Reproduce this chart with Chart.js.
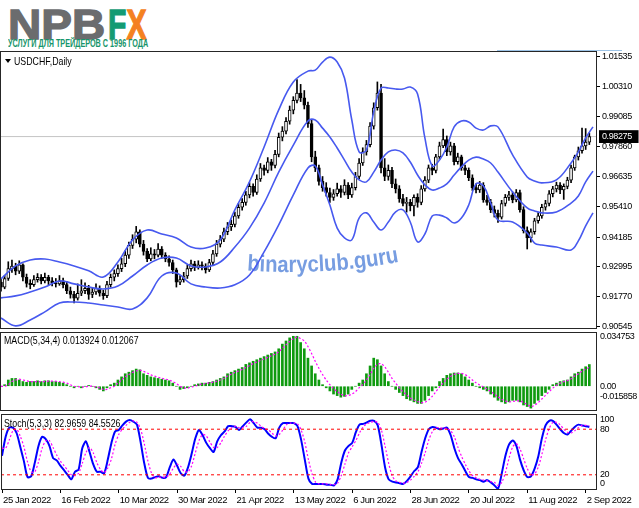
<!DOCTYPE html>
<html>
<head>
<meta charset="utf-8">
<script src="https://cdn.jsdelivr.net/npm/chart.js@4.4.0/dist/chart.umd.min.js"></script>
<style>
body { margin: 0; background: #fff; }
#wrap { position: relative; width: 639px; height: 508px; overflow: hidden; background: #fff; }
canvas { position: absolute; left: 0; }
.logo { position: absolute; top: 3px; font: bold 43px "Liberation Sans", Arial, sans-serif; line-height: 43px; white-space: nowrap; transform-origin: 0 0; }
.npb { left: 8px; color: #6b6c6e; -webkit-text-stroke: 1.3px #6b6c6e; transform: scaleX(1.07); }
.fx { left: 108px; transform: scaleX(0.7); }
.fx .f { color: #139b73; -webkit-text-stroke: 1.3px #139b73; }
.fx .x { color: #f48120; -webkit-text-stroke: 1.3px #f48120; }
.sub { position: absolute; left: 8px; top: 37px; font: bold 10.5px "Liberation Sans", Arial, sans-serif; line-height: 12px; color: #17956b; white-space: nowrap; transform: scaleX(0.69); transform-origin: 0 0; }
.lbl { position: absolute; font: 11px "Liberation Sans", Arial, sans-serif; color: #000; white-space: nowrap; line-height: 12px; transform: scaleX(0.8); transform-origin: 0 0; }
.tri { position: absolute; left: 5px; top: 59px; width: 0; height: 0; border-left: 3px solid transparent; border-right: 3px solid transparent; border-top: 4px solid #000; }
.topline { position: absolute; left: 497px; top: 50px; width: 125px; height: 1px; background: #9cc3e6; }
</style>
</head>
<body>
<div id="wrap">
  <div class="logo npb">NPB</div>
  <div class="logo fx"><span class="f">F</span><span class="x">X</span></div>
  <div class="sub">УСЛУГИ ДЛЯ ТРЕЙДЕРОВ С 1996 ГОДА</div>
  <div class="topline"></div>
  <canvas id="priceChart" width="639" height="298" style="top:41px"></canvas>
  <canvas id="macdChart" width="639" height="99" style="top:322px"></canvas>
  <canvas id="stochChart" width="639" height="104" style="top:404px"></canvas>
  <div class="tri"></div>
  <div class="lbl" style="left:14px;top:55px">USDCHF,Daily</div>
  <div class="lbl" style="left:4px;top:334px">MACD(5,34,4) 0.013924 0.012067</div>
  <div class="lbl" style="left:4px;top:417px">Stoch(5,3,3) 82.9659 84.5526</div>
</div>
<script>
// ---- data ----

const dateLabels = ['25 Jan 2022', '16 Feb 2022', '10 Mar 2022', '30 Mar 2022', '21 Apr 2022', '13 May 2022',
    '6 Jun 2022', '28 Jun 2022', '20 Jul 2022', '11 Aug 2022', '2 Sep 2022'];
const dateIdx = [0, 16, 32, 48, 64, 80, 96, 112, 128, 144, 160];

const priceTicks = [0.90545, 0.91770, 0.92995, 0.94185, 0.95410, 0.96635, 0.97860, 0.98275, 0.99085, 1.00310, 1.01535];
const lastPrice = 0.98275;

// daily candles: [open, high, low, close]
const ohlc = [
    [0.9235, 0.9248, 0.9198, 0.9215], [0.9215, 0.9262, 0.9208, 0.9250], [0.9250, 0.9318, 0.9242, 0.9290], [0.9290, 0.9325, 0.9275, 0.9300],
    [0.9300, 0.9312, 0.9265, 0.9280], [0.9280, 0.9322, 0.9270, 0.9305], [0.9305, 0.9310, 0.9240, 0.9255], [0.9255, 0.9268, 0.9215, 0.9230],
    [0.9230, 0.9245, 0.9208, 0.9225], [0.9225, 0.9262, 0.9218, 0.9245], [0.9245, 0.9270, 0.9235, 0.9255], [0.9255, 0.9266, 0.9228, 0.9240],
    [0.9240, 0.9272, 0.9232, 0.9255], [0.9255, 0.9263, 0.9225, 0.9240], [0.9240, 0.9254, 0.9220, 0.9232], [0.9232, 0.9250, 0.9215, 0.9228],
    [0.9228, 0.9262, 0.9222, 0.9240], [0.9240, 0.9252, 0.9212, 0.9225], [0.9225, 0.9238, 0.9188, 0.9200], [0.9200, 0.9215, 0.9170, 0.9185],
    [0.9185, 0.9198, 0.9150, 0.9170], [0.9170, 0.9228, 0.9162, 0.9190], [0.9190, 0.9245, 0.9180, 0.9200], [0.9200, 0.9232, 0.9188, 0.9210],
    [0.9210, 0.9222, 0.9165, 0.9185], [0.9185, 0.9210, 0.9172, 0.9195], [0.9195, 0.9228, 0.9185, 0.9210], [0.9210, 0.9220, 0.9178, 0.9190],
    [0.9190, 0.9202, 0.9165, 0.9180], [0.9180, 0.9238, 0.9172, 0.9225], [0.9225, 0.9268, 0.9215, 0.9255], [0.9255, 0.9285, 0.9240, 0.9270],
    [0.9270, 0.9305, 0.9258, 0.9290], [0.9290, 0.9332, 0.9278, 0.9310], [0.9310, 0.9362, 0.9298, 0.9345], [0.9345, 0.9398, 0.9332, 0.9385],
    [0.9385, 0.9428, 0.9372, 0.9410], [0.9410, 0.9462, 0.9395, 0.9440], [0.9440, 0.9448, 0.9378, 0.9390], [0.9390, 0.9405, 0.9345, 0.9360],
    [0.9360, 0.9372, 0.9318, 0.9330], [0.9330, 0.9375, 0.9322, 0.9350], [0.9350, 0.9368, 0.9330, 0.9345], [0.9345, 0.9392, 0.9338, 0.9370],
    [0.9370, 0.9380, 0.9332, 0.9345], [0.9345, 0.9355, 0.9318, 0.9330], [0.9330, 0.9342, 0.9300, 0.9315], [0.9315, 0.9325, 0.9270, 0.9285],
    [0.9285, 0.9292, 0.9215, 0.9235], [0.9235, 0.9262, 0.9225, 0.9245], [0.9245, 0.9275, 0.9235, 0.9260], [0.9260, 0.9305, 0.9250, 0.9290],
    [0.9290, 0.9325, 0.9280, 0.9310], [0.9310, 0.9320, 0.9282, 0.9295], [0.9295, 0.9322, 0.9288, 0.9305], [0.9305, 0.9318, 0.9285, 0.9300],
    [0.9300, 0.9310, 0.9272, 0.9285], [0.9285, 0.9328, 0.9278, 0.9315], [0.9315, 0.9365, 0.9305, 0.9350], [0.9350, 0.9405, 0.9340, 0.9390],
    [0.9390, 0.9425, 0.9378, 0.9410], [0.9410, 0.9455, 0.9400, 0.9440], [0.9440, 0.9478, 0.9428, 0.9460], [0.9460, 0.9488, 0.9445, 0.9470],
    [0.9470, 0.9520, 0.9460, 0.9505], [0.9505, 0.9555, 0.9495, 0.9540], [0.9540, 0.9575, 0.9528, 0.9560], [0.9560, 0.9605, 0.9548, 0.9590],
    [0.9590, 0.9640, 0.9578, 0.9625], [0.9625, 0.9635, 0.9585, 0.9600], [0.9600, 0.9672, 0.9592, 0.9655], [0.9655, 0.9718, 0.9645, 0.9700],
    [0.9700, 0.9712, 0.9670, 0.9690], [0.9690, 0.9742, 0.9680, 0.9725], [0.9725, 0.9735, 0.9690, 0.9710], [0.9710, 0.9772, 0.9700, 0.9755],
    [0.9755, 0.9842, 0.9745, 0.9825], [0.9825, 0.9868, 0.9810, 0.9850], [0.9850, 0.9905, 0.9838, 0.9890], [0.9890, 0.9952, 0.9878, 0.9935],
    [0.9935, 0.9990, 0.9920, 0.9975], [0.9975, 1.0060, 0.9965, 1.0005], [1.0005, 1.0040, 0.9970, 0.9985], [0.9985, 1.0015, 0.9940, 0.9955],
    [0.9955, 0.9968, 0.9865, 0.9880], [0.9880, 0.9895, 0.9725, 0.9745], [0.9745, 0.9768, 0.9685, 0.9700], [0.9700, 0.9712, 0.9630, 0.9645],
    [0.9645, 0.9665, 0.9605, 0.9620], [0.9620, 0.9640, 0.9585, 0.9600], [0.9600, 0.9618, 0.9560, 0.9580], [0.9580, 0.9612, 0.9568, 0.9595],
    [0.9595, 0.9638, 0.9585, 0.9615], [0.9615, 0.9628, 0.9580, 0.9600], [0.9600, 0.9652, 0.9590, 0.9630], [0.9630, 0.9640, 0.9575, 0.9590],
    [0.9590, 0.9638, 0.9580, 0.9620], [0.9620, 0.9682, 0.9610, 0.9665], [0.9665, 0.9738, 0.9655, 0.9720], [0.9720, 0.9782, 0.9710, 0.9765],
    [0.9765, 0.9812, 0.9752, 0.9795], [0.9795, 0.9885, 0.9785, 0.9870], [0.9870, 0.9965, 0.9858, 0.9945], [0.9945, 1.0050, 0.9935, 1.0005],
    [1.0005, 1.0040, 0.9680, 0.9700], [0.9700, 0.9738, 0.9648, 0.9665], [0.9665, 0.9712, 0.9650, 0.9690], [0.9690, 0.9702, 0.9620, 0.9635],
    [0.9635, 0.9655, 0.9598, 0.9615], [0.9615, 0.9628, 0.9560, 0.9575], [0.9575, 0.9592, 0.9545, 0.9555], [0.9555, 0.9580, 0.9520, 0.9560],
    [0.9560, 0.9572, 0.9525, 0.9545], [0.9545, 0.9590, 0.9505, 0.9580], [0.9580, 0.9595, 0.9540, 0.9560], [0.9560, 0.9628, 0.9550, 0.9615],
    [0.9615, 0.9665, 0.9605, 0.9650], [0.9650, 0.9712, 0.9640, 0.9700], [0.9700, 0.9715, 0.9672, 0.9690], [0.9690, 0.9755, 0.9680, 0.9745],
    [0.9745, 0.9805, 0.9735, 0.9790], [0.9790, 0.9858, 0.9782, 0.9815], [0.9815, 0.9830, 0.9750, 0.9765], [0.9765, 0.9805, 0.9752, 0.9790],
    [0.9790, 0.9800, 0.9712, 0.9725], [0.9725, 0.9760, 0.9715, 0.9745], [0.9745, 0.9752, 0.9690, 0.9700], [0.9700, 0.9712, 0.9672, 0.9690],
    [0.9690, 0.9700, 0.9648, 0.9660], [0.9660, 0.9672, 0.9608, 0.9620], [0.9620, 0.9635, 0.9598, 0.9610], [0.9610, 0.9645, 0.9600, 0.9630],
    [0.9630, 0.9640, 0.9560, 0.9570], [0.9570, 0.9588, 0.9548, 0.9560], [0.9560, 0.9572, 0.9518, 0.9530], [0.9530, 0.9545, 0.9500, 0.9515],
    [0.9515, 0.9528, 0.9478, 0.9500], [0.9500, 0.9568, 0.9492, 0.9555], [0.9555, 0.9592, 0.9545, 0.9580], [0.9580, 0.9605, 0.9568, 0.9590],
    [0.9590, 0.9602, 0.9558, 0.9570], [0.9570, 0.9612, 0.9562, 0.9600], [0.9600, 0.9610, 0.9520, 0.9530], [0.9530, 0.9542, 0.9435, 0.9445],
    [0.9445, 0.9460, 0.9370, 0.9415], [0.9415, 0.9452, 0.9398, 0.9440], [0.9440, 0.9495, 0.9430, 0.9485], [0.9485, 0.9518, 0.9475, 0.9505],
    [0.9505, 0.9552, 0.9495, 0.9540], [0.9540, 0.9568, 0.9528, 0.9555], [0.9555, 0.9608, 0.9545, 0.9595], [0.9595, 0.9625, 0.9582, 0.9615],
    [0.9615, 0.9642, 0.9602, 0.9630], [0.9630, 0.9640, 0.9595, 0.9610], [0.9610, 0.9635, 0.9572, 0.9625], [0.9625, 0.9662, 0.9615, 0.9650],
    [0.9650, 0.9712, 0.9640, 0.9700], [0.9700, 0.9752, 0.9690, 0.9745], [0.9745, 0.9785, 0.9732, 0.9770], [0.9770, 0.9862, 0.9760, 0.9790],
    [0.9790, 0.9860, 0.9775, 0.9805], [0.9805, 0.9842, 0.9795, 0.98275]
];

// Bollinger bands, sampled at these bar indices
const bandIdx = [0, 4, 8, 12, 16, 20, 24, 28, 32, 36, 40, 44, 48, 52, 56, 60, 64, 68, 72, 76, 80, 84,
    86, 88, 90, 92, 94, 96, 98, 100, 102, 104, 106, 108, 110, 112, 114, 116, 118, 120, 122, 124, 126, 128,
    130, 132, 134, 136, 140, 144, 146, 148, 152, 156, 158, 160, 162];
const bbUpper = [0.9248, 0.9301, 0.9325, 0.9329, 0.9317, 0.9301, 0.9281, 0.9256, 0.9317, 0.9407, 0.9447, 0.9431,
    0.9415, 0.9378, 0.9374, 0.9407, 0.9529, 0.9643, 0.9785, 0.9936, 1.0050, 1.0094,
    1.0098, 1.0131, 1.0151, 1.0131, 1.0066, 0.9895, 0.9765, 0.9773, 0.9928, 1.0025, 1.0025, 1.0021, 1.0021,
    1.0029, 1.0001, 0.9822, 0.9708, 0.9732, 0.9785, 0.9867, 0.9891, 0.9887,
    0.9862, 0.9854, 0.9871, 0.9867, 0.9753, 0.9663, 0.9647, 0.9639, 0.9651, 0.9720, 0.9765, 0.9822, 0.9867];
const bbMiddle = [0.9171, 0.9179, 0.9195, 0.9215, 0.9240, 0.9228, 0.9215, 0.9207, 0.9219, 0.9260, 0.9305, 0.9333,
    0.9333, 0.9301, 0.9297, 0.9317, 0.9378, 0.9455, 0.9557, 0.9683, 0.9793, 0.9891,
    0.9895, 0.9862, 0.9826, 0.9781, 0.9732, 0.9683, 0.9651, 0.9643, 0.9683, 0.9732, 0.9765, 0.9773, 0.9761,
    0.9724, 0.9671, 0.9631, 0.9610, 0.9618, 0.9635, 0.9671, 0.9704, 0.9732,
    0.9744, 0.9736, 0.9720, 0.9683, 0.9602, 0.9537, 0.9525, 0.9517, 0.9521, 0.9557, 0.9586, 0.9643, 0.9687];
const bbLower = [0.9089, 0.9057, 0.9081, 0.9114, 0.9150, 0.9154, 0.9150, 0.9142, 0.9134, 0.9126, 0.9171, 0.9260,
    0.9272, 0.9228, 0.9215, 0.9211, 0.9224, 0.9264, 0.9358, 0.9468, 0.9590, 0.9700,
    0.9708, 0.9631, 0.9549, 0.9455, 0.9415, 0.9407, 0.9496, 0.9517, 0.9480, 0.9447, 0.9480, 0.9521, 0.9529,
    0.9480, 0.9399, 0.9431, 0.9504, 0.9508, 0.9496, 0.9476, 0.9496, 0.9549,
    0.9635, 0.9627, 0.9557, 0.9488, 0.9480, 0.9435, 0.9394, 0.9386, 0.9378, 0.9366, 0.9403, 0.9464, 0.9517];

// MACD(5,34,4): histogram and signal, one value per bar
const macdHist = [
    0.000, 0.001, 0.004, 0.005, 0.005, 0.004, 0.003, 0.0025, 0.003, 0.003,
    0.0035, 0.003, 0.0035, 0.0035, 0.003, 0.003, 0.0025, 0.002, 0.001, 0.000,
    -0.001, 0.000, -0.001, 0.000, 0.0005, 0.000, -0.001, -0.002, -0.003, -0.001,
    0.001, 0.002, 0.004, 0.006, 0.008, 0.009, 0.010, 0.011, 0.0105, 0.008,
    0.007, 0.006, 0.0055, 0.005, 0.0045, 0.004, 0.0035, 0.002, 0.000, -0.002,
    -0.0015, -0.001, 0.000, 0.001, 0.0015, 0.002, 0.002, 0.0025, 0.003, 0.004,
    0.005, 0.006, 0.008, 0.009, 0.010, 0.011, 0.012, 0.014, 0.015, 0.016,
    0.017, 0.018, 0.019, 0.020, 0.021, 0.022, 0.024, 0.027, 0.029, 0.031,
    0.032, 0.032, 0.028, 0.024, 0.018, 0.013, 0.008, 0.004, 0.001, -0.001,
    -0.003, -0.005, -0.006, -0.007, -0.0065, -0.005, -0.002, 0.000, 0.002, 0.004,
    0.008, 0.013, 0.018, 0.017, 0.013, 0.008, 0.003, 0.000, -0.002, -0.004,
    -0.006, -0.008, -0.009, -0.010, -0.011, -0.011, -0.009, -0.006, -0.003, -0.001,
    0.003, 0.005, 0.007, 0.008, 0.0085, 0.0085, 0.008, 0.006, 0.004, 0.002,
    0.000, -0.001, -0.002, -0.003, -0.005, -0.007, -0.009, -0.010, -0.011, -0.010,
    -0.009, -0.009, -0.010, -0.012, -0.013, -0.014, -0.011, -0.009, -0.006, -0.004,
    -0.002, 0.001, 0.002, 0.003, 0.0035, 0.004, 0.006, 0.008, 0.009, 0.011,
    0.0125, 0.0139
];
const macdSignal = [
    0.000, 0.000, 0.001, 0.003, 0.004, 0.0045, 0.004, 0.0035, 0.003, 0.003,
    0.003, 0.003, 0.003, 0.0033, 0.0033, 0.0032, 0.003, 0.0026, 0.002, 0.001,
    0.000, -0.0003, -0.0005, -0.0004, 0.000, 0.000, -0.0005, -0.001, -0.002, -0.002,
    -0.001, 0.000, 0.002, 0.004, 0.006, 0.0075, 0.0088, 0.0098, 0.0103, 0.0095,
    0.0085, 0.0073, 0.0065, 0.0058, 0.0051, 0.0046, 0.004, 0.003, 0.0017, 0.000,
    -0.001, -0.0012, -0.0006, 0.000, 0.0008, 0.0014, 0.0018, 0.0022, 0.0026, 0.0032,
    0.004, 0.005, 0.0065, 0.0077, 0.0088, 0.0098, 0.0108, 0.012, 0.0133, 0.0145,
    0.0155, 0.0165, 0.0175, 0.0185, 0.0195, 0.0205, 0.022, 0.0242, 0.0265, 0.0287,
    0.0305, 0.0315, 0.0305, 0.029, 0.0255, 0.021, 0.016, 0.0115, 0.0075, 0.004,
    0.001, -0.0015, -0.0035, -0.005, -0.006, -0.006, -0.005, -0.0035, -0.001, 0.001,
    0.004, 0.0075, 0.0115, 0.014, 0.0145, 0.0125, 0.009, 0.005, 0.002, -0.001,
    -0.0035, -0.0055, -0.0075, -0.0088, -0.0098, -0.0105, -0.0102, -0.0088, -0.0065, -0.0035,
    -0.0005, 0.002, 0.0045, 0.0063, 0.0076, 0.0082, 0.0082, 0.0075, 0.006, 0.004,
    0.0022, 0.0008, -0.0005, -0.0017, -0.0033, -0.005, -0.0068, -0.0083, -0.0095, -0.010,
    -0.0098, -0.0094, -0.0095, -0.0105, -0.0118, -0.013, -0.0122, -0.0105, -0.0082, -0.0058,
    -0.0035, -0.0012, 0.0006, 0.002, 0.003, 0.0036, 0.0048, 0.0065, 0.008, 0.0096,
    0.011, 0.0121
];
const macdTickVals = [-0.00689, 0, 0.03155];
const macdTickText = ['-0.015858', '0.00', '0.034753'];

// Stochastic(5,3,3)
const stochMain = [
    45, 70, 82, 82, 75, 57, 38, 17, 18, 36, 58, 70, 67, 58, 42, 39, 32, 26, 20, 14,
    24, 27, 55, 64, 50, 34, 24, 24, 22, 40, 62, 77, 79, 85, 90, 92, 90, 86, 63, 35,
    16, 15, 17, 18, 16, 17, 30, 40, 32, 22, 19, 30, 48, 68, 79, 72, 62, 55, 50, 64,
    72, 77, 84, 84, 83, 79, 84, 89, 93, 88, 82, 82, 80, 74, 70, 68, 82, 88, 88, 88,
    88, 84, 66, 40, 15, 8, 8, 8, 8, 7, 7, 6, 14, 36, 52, 58, 62, 76, 86, 87,
    89, 91, 91, 85, 60, 30, 14, 11, 10, 9, 8, 12, 18, 25, 30, 50, 68, 80, 83, 82,
    80, 81, 82, 72, 55, 42, 34, 25, 17, 16, 14, 13, 11, 13, 10, 6, 2, 22, 45, 60,
    65, 58, 40, 26, 17, 18, 28, 44, 68, 85, 91, 91, 86, 80, 75, 73, 78, 83, 86, 85,
    84, 82.97
];
const stochSignal = [
    55, 55, 66, 78, 80, 71, 57, 37, 24, 24, 37, 55, 65, 65, 56, 46, 38, 32, 26, 20,
    19, 22, 35, 49, 56, 49, 36, 27, 23, 29, 41, 60, 73, 80, 85, 89, 91, 89, 80, 61,
    38, 22, 16, 17, 17, 17, 21, 29, 34, 31, 24, 24, 32, 49, 65, 73, 71, 63, 56, 56,
    62, 71, 78, 82, 84, 82, 82, 84, 89, 90, 88, 84, 81, 79, 75, 71, 73, 79, 86, 88,
    88, 87, 79, 63, 40, 21, 10, 8, 8, 8, 7, 7, 9, 19, 34, 49, 57, 65, 75, 83,
    87, 89, 90, 89, 79, 58, 35, 18, 12, 10, 9, 10, 13, 18, 24, 35, 49, 66, 77, 82,
    82, 81, 81, 78, 70, 56, 44, 34, 25, 19, 16, 14, 13, 12, 11, 10, 6, 10, 23, 42,
    57, 61, 54, 41, 28, 20, 21, 30, 47, 66, 81, 89, 89, 86, 80, 76, 75, 78, 82, 85,
    85, 84.55
];
const stochLevels = [20, 80];
const stochTickVals = [8.3, 20, 80, 92.1];
const stochTickText = ['0', '20', '80', '100'];

// ---- layout / style ----

const xMin = -0.27, xMax = 163.1;
const axisFont = { family: '"Liberation Sans", Arial, sans-serif', size: 9 };
const dateFont = { family: '"Liberation Sans", Arial, sans-serif', size: 9.5 };
const bandColor = '#4759ef';

// squeeze axis text a little, MT4 uses a narrow face
const tightText = {
    id: 'tightText',
    beforeDraw(chart) { chart.ctx.letterSpacing = '-0.4px'; }
};

const framePlugin = {
    id: 'frame',
    afterDraw(chart) {
        const { ctx, chartArea: a } = chart;
        ctx.save();
        ctx.strokeStyle = '#262626';
        ctx.lineWidth = 1;
        ctx.strokeRect(a.left + 0.5, a.top + 0.5, a.right - a.left - 1, a.bottom - a.top - 1);
        ctx.restore();
    }
};

const watermarkPlugin = {
    id: 'watermark',
    beforeDatasetsDraw(chart) {
        const ctx = chart.ctx;
        const top = chart.canvas.offsetTop;
        const text = 'binaryclub.guru';
        const R = 600, cx = 290, cy = 272 - R - top, sx = 0.88;
        ctx.save();
        ctx.letterSpacing = '0px';
        ctx.font = 'bold 23px "Liberation Sans", Arial, sans-serif';
        ctx.fillStyle = 'rgba(104,146,222,0.9)';
        ctx.textAlign = 'center';
        ctx.textBaseline = 'alphabetic';
        let acc = 0;
        const theta0 = Math.asin((247 - cx) / R);
        for (const ch of text) {
            const w = ctx.measureText(ch).width * sx;
            const th = theta0 + (acc + w / 2) / R;
            ctx.save();
            ctx.translate(cx + R * Math.sin(th), cy + R * Math.cos(th));
            ctx.rotate(-th);
            ctx.scale(sx, 1);
            ctx.fillText(ch, 0, 0);
            ctx.restore();
            acc += w;
        }
        ctx.restore();
    }
};

const hiddenX = { type: 'linear', min: xMin, max: xMax, display: false, offset: false, grid: { offset: false } };

function rightAxis(extra) {
    return Object.assign({
        position: 'right',
        afterFit: s => { s.width = 42; },
        border: { display: false },
        grid: { drawOnChartArea: false, drawTicks: false },
        ticks: { autoSkip: false, font: axisFont, color: '#000', padding: 3 }
    }, extra);
}

const common = {
    animation: false,
    responsive: false,
    devicePixelRatio: 1,
    events: [],
    plugins: { legend: { display: false }, tooltip: { enabled: false } }
};

// ---- price panel ----
new Chart(document.getElementById('priceChart'), {
    type: 'bar',
    data: {
        datasets: [
            {
                type: 'line', order: 5,
                data: [{ x: xMin, y: lastPrice }, { x: xMax, y: lastPrice }],
                borderColor: '#c4c4c4', borderWidth: 1, pointRadius: 0
            },
            {
                order: 4, grouped: false, barThickness: 1,
                data: ohlc.map((r, i) => ({ x: i, y: [r[2], r[1]] })),
                backgroundColor: '#000'
            },
            {
                order: 3, grouped: false, barThickness: 3,
                data: ohlc.map((r, i) => ({ x: i, y: [r[0], r[3]] })),
                backgroundColor: ohlc.map(r => r[3] >= r[0] ? '#fff' : '#000'),
                borderColor: '#000', borderWidth: 1, borderSkipped: false
            },
            {
                type: 'line', order: 1,
                data: bandIdx.map((x, k) => ({ x, y: bbUpper[k] })),
                borderColor: bandColor, borderWidth: 1.6, pointRadius: 0, tension: 0.4
            },
            {
                type: 'line', order: 1,
                data: bandIdx.map((x, k) => ({ x, y: bbMiddle[k] })),
                borderColor: bandColor, borderWidth: 1.6, pointRadius: 0, tension: 0.4
            },
            {
                type: 'line', order: 1,
                data: bandIdx.map((x, k) => ({ x, y: bbLower[k] })),
                borderColor: bandColor, borderWidth: 1.6, pointRadius: 0, tension: 0.4
            }
        ]
    },
    options: Object.assign({}, common, {
        layout: { padding: { top: 10, bottom: 10, left: 0, right: 0 } },
        scales: {
            x: hiddenX,
            y: rightAxis({
                min: 0.90443, max: 1.01759,
                afterBuildTicks: s => { s.ticks = priceTicks.map(v => ({ value: v })); },
                grid: {
                    drawOnChartArea: false, drawTicks: true, tickLength: 3,
                    tickColor: c => (c.tick && c.tick.value === lastPrice) ? 'rgba(0,0,0,0)' : '#000'
                },
                ticks: {
                    autoSkip: false, font: axisFont, padding: 2,
                    callback: v => v.toFixed(5),
                    color: c => (c.tick && c.tick.value === lastPrice) ? '#fff' : '#000',
                    showLabelBackdrop: true,
                    backdropColor: c => (c.tick && c.tick.value === lastPrice) ? '#000' : 'rgba(0,0,0,0)',
                    backdropPadding: { top: 1, bottom: 1, left: 3, right: 4 }
                }
            })
        }
    }),
    plugins: [tightText, watermarkPlugin, framePlugin]
});

// ---- MACD panel ----
new Chart(document.getElementById('macdChart'), {
    type: 'bar',
    data: {
        datasets: [
            {
                order: 2, grouped: false, barThickness: 2,
                data: macdHist.map((v, i) => ({ x: i, y: v })),
                backgroundColor: '#0f9a0f'
            },
            {
                type: 'line', order: 1,
                data: macdSignal.map((v, i) => ({ x: i, y: v })),
                borderColor: '#ff00ff', borderWidth: 1.2, borderDash: [2, 2], pointRadius: 0, tension: 0.3
            }
        ]
    },
    options: Object.assign({}, common, {
        layout: { padding: { top: 10, bottom: 10, left: 0, right: 0 } },
        scales: {
            x: hiddenX,
            y: rightAxis({
                min: -0.015858, max: 0.034753,
                afterBuildTicks: s => { s.ticks = macdTickVals.map(v => ({ value: v })); },
                ticks: {
                    autoSkip: false, font: axisFont, color: '#000', padding: 3,
                    callback: v => macdTickText[macdTickVals.indexOf(v)]
                }
            })
        }
    }),
    plugins: [tightText, framePlugin]
});

// ---- Stochastic panel ----
new Chart(document.getElementById('stochChart'), {
    type: 'line',
    data: {
        datasets: [
            ...stochLevels.map(lv => ({
                data: [{ x: xMin, y: lv }, { x: xMax, y: lv }],
                borderColor: '#ff0000', borderWidth: 1, borderDash: [3, 3], pointRadius: 0
            })),
            {
                data: stochSignal.map((v, i) => ({ x: i, y: v })),
                borderColor: '#ff00ff', borderWidth: 1.2, borderDash: [2, 2], pointRadius: 0, tension: 0.25
            },
            {
                data: stochMain.map((v, i) => ({ x: i, y: v })),
                borderColor: '#0000ff', borderWidth: 2, pointRadius: 0, tension: 0.25
            }
        ]
    },
    options: Object.assign({}, common, {
        layout: { padding: { top: 10, bottom: 0, left: 0, right: 0 } },
        scales: {
            x: {
                type: 'linear', min: xMin, max: xMax, offset: false,
                afterFit: s => { s.height = 18; },
                afterBuildTicks: s => { s.ticks = dateIdx.map(v => ({ value: v })); },
                border: { display: false },
                grid: { drawOnChartArea: false, drawTicks: true, tickLength: 3, tickColor: '#000' },
                ticks: {
                    autoSkip: false, maxRotation: 0, align: 'start', padding: 2, labelOffset: 1,
                    font: dateFont, color: '#000',
                    callback: v => dateLabels[dateIdx.indexOf(v)]
                }
            },
            y: rightAxis({
                min: 0, max: 100,
                afterBuildTicks: s => { s.ticks = stochTickVals.map(v => ({ value: v })); },
                ticks: {
                    autoSkip: false, font: axisFont, color: '#000', padding: 3,
                    callback: v => stochTickText[stochTickVals.indexOf(v)]
                }
            })
        }
    }),
    plugins: [tightText, framePlugin]
});
</script>
</body>
</html>
